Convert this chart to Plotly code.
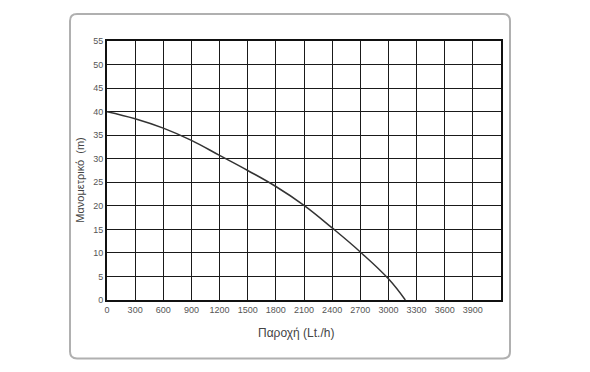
import plotly.graph_objects as go

flow = [0, 300, 600, 900, 1200, 1500, 1800, 2100, 2400, 2700, 3000, 3180]
head = [40, 38.5, 36.5, 33.9, 30.7, 27.5, 24.1, 20.1, 15.3, 10.2, 4.5, 0]
x_ticks = list(range(0, 4200, 300))
y_ticks = list(range(0, 60, 5))
x_title = "Παροχή (Lt./h)"
y_title = "Μανομετρικό  (m)"

W, H = 590, 372
L, R, T, B = 107, 501, 41, 300.5
pw, ph = R - L, B - T

def px(x):
    return (x - L) / pw

def py(y):
    return (B - y) / ph

# rounded frame
fl, fr, ft, fb, rad = 70, 510, 14, 359, 7
path = (f"M {px(fl+rad)},{py(ft)} L {px(fr-rad)},{py(ft)} Q {px(fr)},{py(ft)} {px(fr)},{py(ft+rad)} "
        f"L {px(fr)},{py(fb-rad)} Q {px(fr)},{py(fb)} {px(fr-rad)},{py(fb)} "
        f"L {px(fl+rad)},{py(fb)} Q {px(fl)},{py(fb)} {px(fl)},{py(fb-rad)} "
        f"L {px(fl)},{py(ft+rad)} Q {px(fl)},{py(ft)} {px(fl+rad)},{py(ft)} Z")

fig = go.Figure()
fig.add_trace(go.Scatter(x=flow, y=head, mode="lines",
                         line=dict(color="#333333", width=1.5, shape="spline", smoothing=1.2),
                         showlegend=False, hoverinfo="skip"))

fig.update_layout(
    width=W, height=H,
    margin=dict(l=L, r=W - R, t=T, b=H - B),
    paper_bgcolor="white", plot_bgcolor="white",
    font=dict(family="Liberation Sans, Arial, sans-serif", color="#444444"),
    shapes=[dict(type="path", xref="paper", yref="paper", path=path,
                 line=dict(color="#b0b0b0", width=2), layer="below")],
    annotations=[
        dict(text=x_title, xref="paper", yref="paper", x=px(296), y=py(334),
             showarrow=False, xanchor="center", yanchor="middle",
             font=dict(size=12, color="#444444")),
        dict(text=y_title, xref="paper", yref="paper", x=px(80), y=py(180),
             showarrow=False, xanchor="center", yanchor="middle", textangle=-90,
             font=dict(size=11, color="#444444")),
    ],
)
fig.update_xaxes(range=[0, 4200], tickmode="array", tickvals=x_ticks,
                 ticktext=[str(v) for v in x_ticks],
                 showgrid=True, gridcolor="#1a1a1a", gridwidth=1,
                 showline=True, linecolor="#111111", linewidth=2, mirror=True,
                 ticks="", tickfont=dict(size=9, color="#555555"),
                 zeroline=False, fixedrange=True)
fig.update_yaxes(range=[0, 55], tickmode="array", tickvals=y_ticks,
                 showgrid=True, gridcolor="#1a1a1a", gridwidth=1,
                 showline=True, linecolor="#111111", linewidth=2, mirror=True,
                 ticks="", tickfont=dict(size=9, color="#555555"),
                 zeroline=False, fixedrange=True)
fig.write_html("out.html", config={"displayModeBar": False, "staticPlot": True})

with open("out.html", "r", encoding="utf-8") as f:
    html = f.read()
html = html.replace("<head>", "<head><style>html,body{margin:0;padding:0;}</style>", 1)
with open("out.html", "w", encoding="utf-8") as f:
    f.write(html)
